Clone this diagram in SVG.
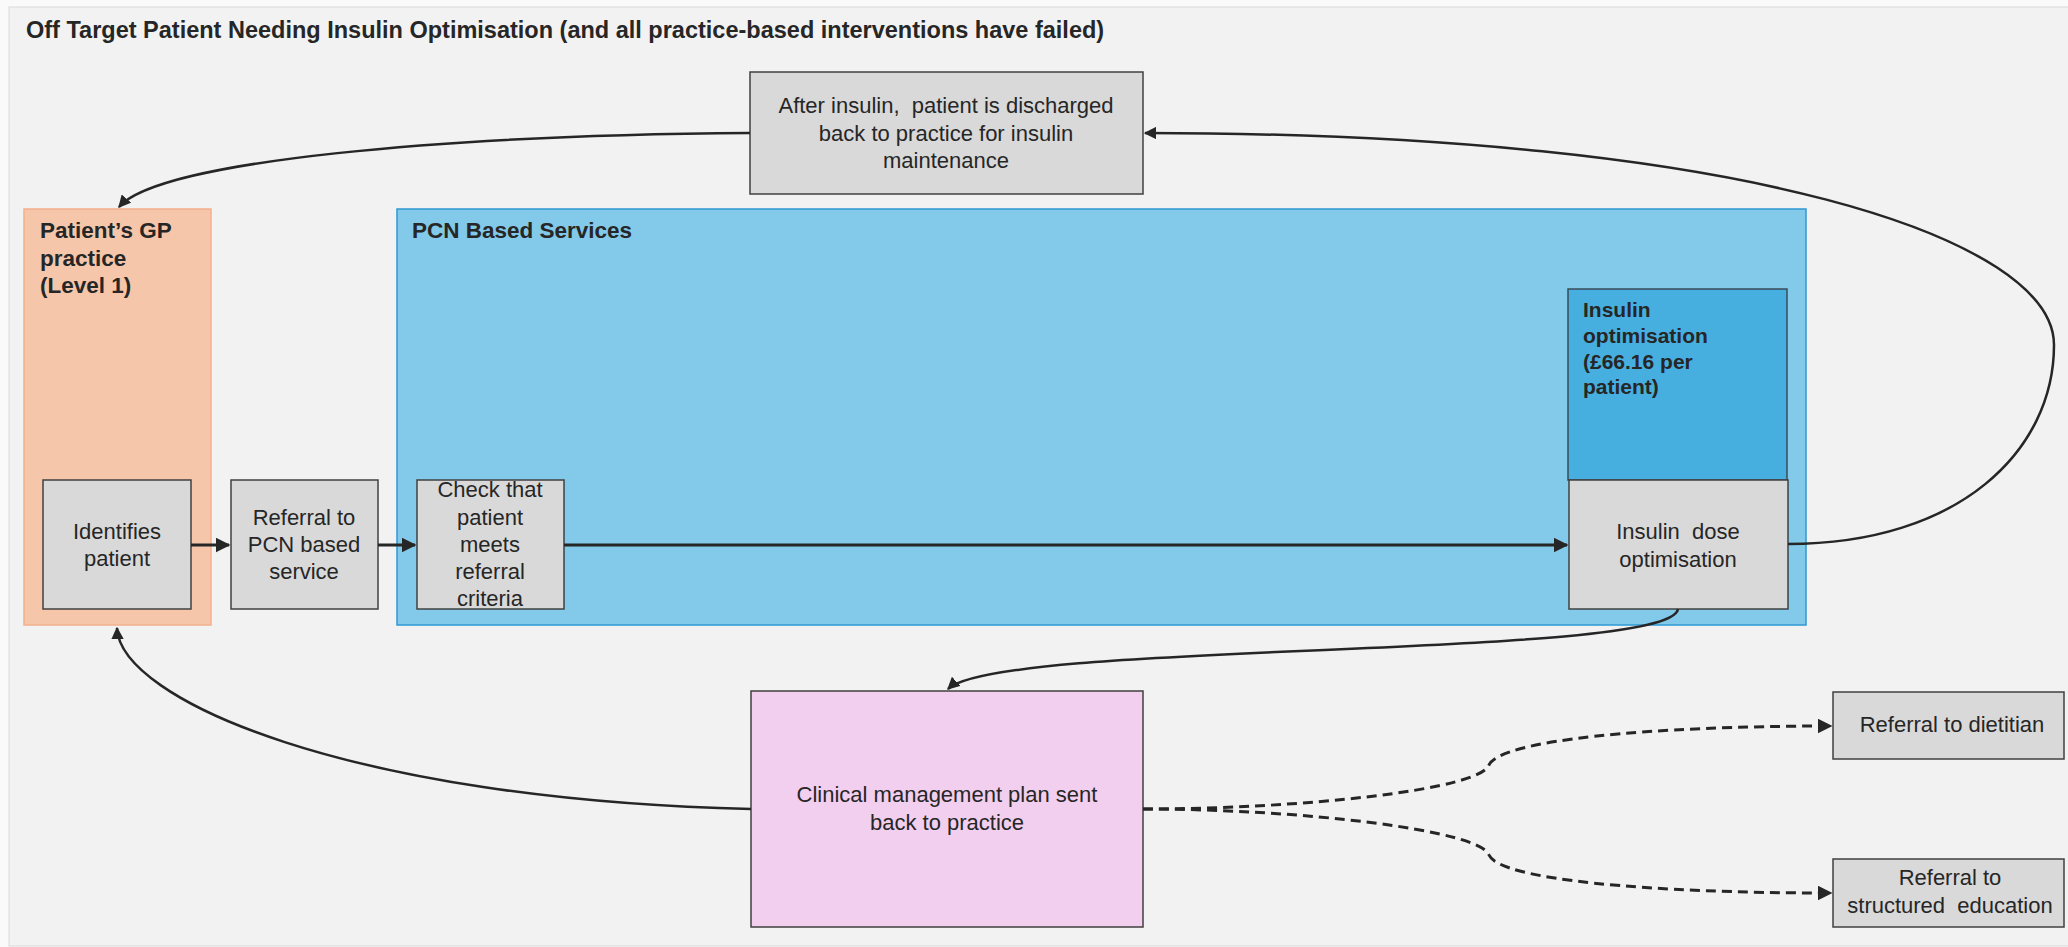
<svg xmlns="http://www.w3.org/2000/svg" width="2068" height="947" viewBox="0 0 2068 947">
<style>
.t{font-family:"Liberation Sans",Arial,sans-serif;fill:#262626;font-size:22px}
.b{font-weight:bold;font-size:21px}
.g{font-weight:bold;font-size:22.5px}
.h{font-weight:bold;font-size:23.5px}
.c{text-anchor:middle}
.box{fill:#d9d9d9;stroke:#404040;stroke-width:1.5}
.ln{fill:none;stroke:#262626;stroke-width:2.5}
.th{stroke-width:3}
.ds{stroke-dasharray:10 6;stroke-width:3}
</style>
<defs>
<marker id="ah" viewBox="0 0 10 10" refX="9" refY="5" markerWidth="5" markerHeight="5" orient="auto" markerUnits="strokeWidth">
<path d="M0,0 L10,5 L0,10 z" fill="#262626"/>
</marker>
</defs>
<rect x="0" y="0" width="2068" height="947" fill="#fafafa"/>
<rect x="9" y="7" width="2070" height="939" fill="#f2f2f2" stroke="#d9d9d9" stroke-width="1"/>
<text class="t h" x="26" y="38">Off Target Patient Needing Insulin Optimisation (and all practice-based interventions have failed)</text>

<g id="gp-practice">
<rect x="24" y="209" width="187" height="416" fill="#f6c6ab" stroke="#f4b08e" stroke-width="1.5"/>
<text class="t g" x="40" y="238">Patient’s GP</text>
<text class="t g" x="40" y="266">practice</text>
<text class="t g" x="40" y="293">(Level 1)</text>
</g>
<g id="pcn-services">
<rect x="397" y="209" width="1409" height="416" fill="#82c9ea" stroke="#2e98d4" stroke-width="1.5"/>
<text class="t g" x="412" y="238">PCN Based Services</text>
</g>
<g id="insulin-optimisation">
<rect x="1568" y="289" width="219" height="191" fill="#47afe0" stroke="#3b4b57" stroke-width="1.5"/>
<text class="t b" x="1583" y="317">Insulin</text>
<text class="t b" x="1583" y="343">optimisation</text>
<text class="t b" x="1583" y="369">(£66.16 per</text>
<text class="t b" x="1583" y="394">patient)</text>
</g>
<g id="after-insulin">
<rect class="box" x="750" y="72" width="393" height="122"/>
<text class="t c" x="946" y="113" xml:space="preserve">After insulin,  patient is discharged</text>
<text class="t c" x="946" y="141">back to practice for insulin</text>
<text class="t c" x="946" y="168">maintenance</text>
</g>
<g id="identifies-patient">
<rect class="box" x="43" y="480" width="148" height="129"/>
<text class="t c" x="117" y="539">Identifies</text>
<text class="t c" x="117" y="566">patient</text>
</g>
<g id="referral-pcn">
<rect class="box" x="231" y="480" width="147" height="129"/>
<text class="t c" x="304" y="525">Referral to</text>
<text class="t c" x="304" y="552">PCN based</text>
<text class="t c" x="304" y="579">service</text>
</g>
<g id="check-criteria">
<rect class="box" x="417" y="480" width="147" height="129"/>
<text class="t c" x="490" y="497">Check that</text>
<text class="t c" x="490" y="525">patient</text>
<text class="t c" x="490" y="552">meets</text>
<text class="t c" x="490" y="579">referral</text>
<text class="t c" x="490" y="606">criteria</text>
</g>
<g id="insulin-dose">
<rect class="box" x="1569" y="480" width="219" height="129"/>
<text class="t c" x="1678" y="539" xml:space="preserve">Insulin  dose</text>
<text class="t c" x="1678" y="567">optimisation</text>
</g>
<g id="clinical-plan">
<rect x="751" y="691" width="392" height="236" fill="#f2cfee" stroke="#404040" stroke-width="1.5"/>
<text class="t c" x="947" y="802">Clinical management plan sent</text>
<text class="t c" x="947" y="830">back to practice</text>
</g>
<g id="referral-dietitian">
<rect class="box" x="1833" y="692" width="231" height="67"/>
<text class="t c" x="1952" y="732">Referral to dietitian</text>
</g>
<g id="referral-education">
<rect class="box" x="1833" y="859" width="231" height="68"/>
<text class="t c" x="1950" y="885">Referral to</text>
<text class="t c" x="1950" y="913" xml:space="preserve">structured  education</text>
</g>

<g id="connectors">
<path class="ln th" d="M191,545 L229,545" marker-end="url(#ah)"/>
<path class="ln th" d="M378,545 L415,545" marker-end="url(#ah)"/>
<path class="ln th" d="M564,545 L1567,545" marker-end="url(#ah)"/>
<path class="ln" d="M1788,544 C1960,544 2054,450 2054,345 C2054,240 1750,133 1145,133" marker-end="url(#ah)"/>
<path class="ln" d="M750,133 C450,135 160,160 119,207" marker-end="url(#ah)"/>
<path class="ln" d="M751,809 C350,800 120,700 117,628" marker-end="url(#ah)"/>
<path class="ln" d="M1678,609 C1670,660 1000,640 948,689" marker-end="url(#ah)"/>
<path class="ln ds" d="M1143,809 C1300,809 1480,790 1489,765 C1500,740 1650,726 1831,726" marker-end="url(#ah)"/>
<path class="ln ds" d="M1143,809 C1300,809 1480,830 1489,855 C1500,880 1650,893 1831,893" marker-end="url(#ah)"/>
</g>
</svg>
